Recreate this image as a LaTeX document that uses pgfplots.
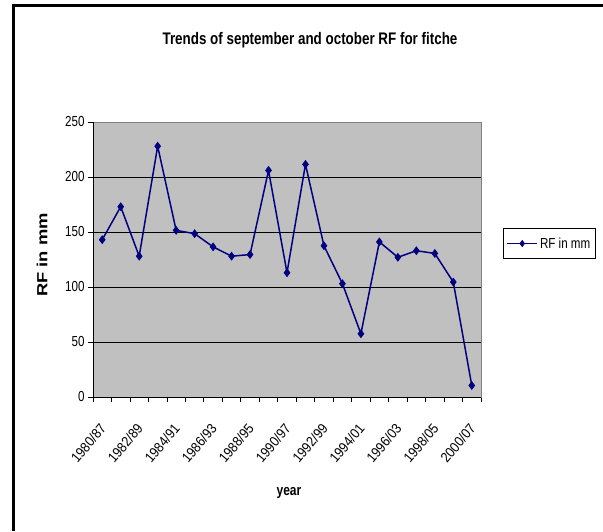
\documentclass[border=0pt]{standalone}
\usepackage{pgfplots}
\pgfplotsset{compat=1.18}
\usepackage{fontspec}
\setmainfont{Liberation Sans}[FakeStretch=0.8]
\newfontfamily\xtickfont{Liberation Sans}[FakeStretch=0.9]
\newfontfamily\ylabfont{Liberation Sans}[FakeStretch=1.25]
\definecolor{navy}{HTML}{000080}
\definecolor{plotgray}{HTML}{C0C0C0}
\definecolor{framegray}{HTML}{808080}
\begin{document}
\begin{tikzpicture}[x=1pt,y=1pt]
\path[use as bounding box] (0,0) rectangle (603,531);
\fill[white] (0,0) rectangle (603,531);
\draw[line width=3pt] (13.5,0) -- (13.5,525) -- (603,525);
\node[font=\fontsize{16.75}{18}\selectfont\bfseries] at (310,491) {Trends of september and october RF for fitche};
\begin{axis}[
  at={(93pt,134pt)}, anchor=south west,
  width=388pt, height=275pt, scale only axis,
  xmin=0.5, xmax=21.5, ymin=0, ymax=250,
  axis background/.style={fill=plotgray},
  axis line style={framegray, line width=1pt},
  ytick={0,50,...,250},
  minor ytick={0,50,...,250},
  ymajorgrids, major grid style={black, line width=0.9pt},
  xtick={1,3,...,21},
  xticklabels={1980/87,1982/89,1984/91,1986/93,1988/95,1990/97,1992/99,1994/01,1996/03,1998/05,2000/07},
  minor xtick={0.5,1.5,...,21.5},
  xticklabel style={xshift=3pt, yshift=-26pt, rotate=50, anchor=east,
       font=\xtickfont\fontsize{14}{15}\selectfont},
  tick align=outside, major tick length=0pt, minor tick length=5pt,
  tick style={black, line width=0.8pt},
  xtick pos=bottom, ytick pos=left,
  /pgf/number format/assume math mode=true,
  yticklabel style={font=\fontsize{14.5}{15}\selectfont, xshift=-5pt},
  ylabel={RF in mm},
  ylabel style={at={(axis description cs:-0.131,0.516)}, anchor=center, rotate=0,
     font=\ylabfont\fontsize{14.7}{16}\selectfont\bfseries},
  xlabel={year},
  xlabel style={at={(axis description cs:0.505,-0.35)}, anchor=center,
     font=\fontsize{15}{16}\selectfont\bfseries},
  legend style={at={(axis description cs:1.057,0.558)}, anchor=west,
     draw=black, fill=white, line width=0.8pt,
     font=\fontsize{14.5}{15}\selectfont, inner xsep=3pt, inner ysep=7pt},
  legend image code/.code={\draw[mark repeat=2, mark phase=2, mark size=3pt] plot coordinates {(0pt,0pt) (15pt,0pt) (30pt,0pt)};},
  clip=false,
]
\addplot[navy, line width=1.5pt, mark=diamond*, mark size=3.8pt, mark options={fill=navy, draw=navy, line width=0.8pt}]
coordinates {
(1,143) (2,173) (3,128) (4,228) (5,151.5) (6,148.5) (7,136.5) (8,128) (9,129.5) (10,206)
(11,113) (12,211.5) (13,137.5) (14,103) (15,57.5) (16,141) (17,127) (18,133) (19,130.5) (20,104.5) (21,10.5)
};
\addlegendentry{RF in mm}
\draw[black, line width=1pt] (rel axis cs:0,1) -- (rel axis cs:0,0) -- (rel axis cs:1,0);
\end{axis}
\end{tikzpicture}
\end{document}
